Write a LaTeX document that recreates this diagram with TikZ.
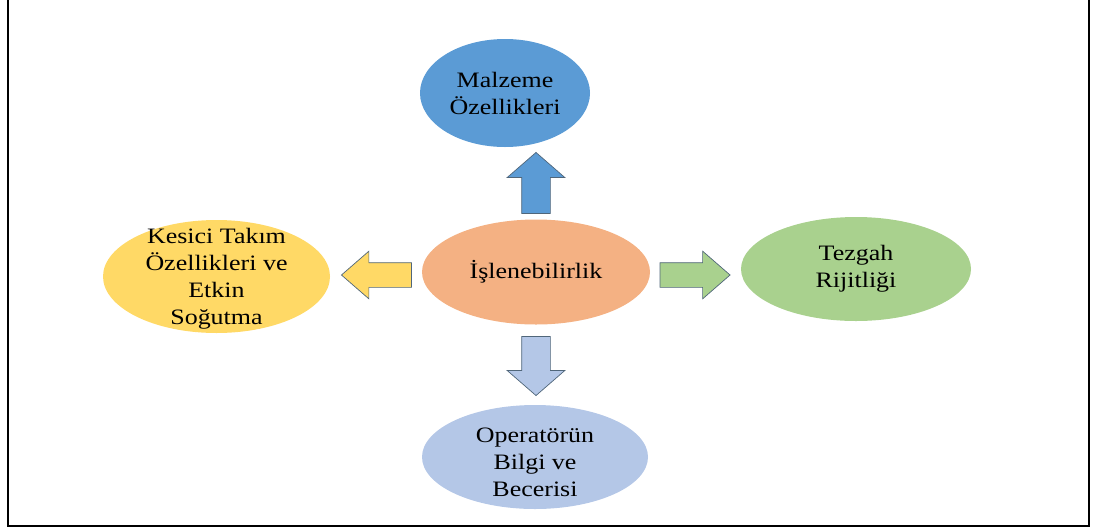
\documentclass[tikz,border=0pt]{standalone}
\usepackage{fontspec}
\setmainfont{Liberation Serif}[FakeStretch=1.18]
\usepackage{tikz}
\usetikzlibrary{shapes.geometric,shapes.arrows,calc}
\definecolor{malz-blue}{HTML}{5B9BD5}
\definecolor{isl-orange}{HTML}{F4B183}
\definecolor{kes-yellow}{HTML}{FFD966}
\definecolor{tez-green}{HTML}{A9D18E}
\definecolor{op-blue}{HTML}{B4C7E7}
\definecolor{arrow-edge}{HTML}{50667A}
\tikzset{
    oval-node/.style = {ellipse, fill=#1, draw=none, inner sep=0pt},
    oval-text/.style = {align=center, font=\fontsize{22}{27}\selectfont, inner sep=0pt},
    block-arrow/.style = {single arrow, fill=#1, draw=arrow-edge, line width=0.7pt, inner xsep=0pt, single arrow head indent=0pt, anchor=tail},
    vert-arrow/.style = {inner ysep=14pt, single arrow head extend=14.5pt, single arrow tip angle=98},
    horiz-arrow/.style = {inner ysep=12pt, minimum height=70pt, single arrow head extend=11.5pt, single arrow tip angle=82},
}

\begin{document}
\begin{tikzpicture}[x=1pt,y=-1pt]
\useasboundingbox (0,0) rectangle (1094,531);
\clip (0,0) rectangle (1094,531);
\draw [line width=2.5pt] (8,-10) rectangle (1089,526);

% ellipses
\node [oval-node=isl-orange, minimum width=228pt, minimum height=105pt] (isl) at (536,272) {};
\node [oval-node=malz-blue, minimum width=170pt, minimum height=108pt] (malz) at (505,93) {};
\node [oval-node=kes-yellow, minimum width=227pt, minimum height=113pt] (kes) at (216.5,276.5) {};
\node [oval-node=tez-green, minimum width=230pt, minimum height=104pt] (tez) at (856,269) {};
\node [oval-node=op-blue, minimum width=226pt, minimum height=104pt] (op) at (535,457) {};

% texts
\node [oval-text] (isl-t) at (isl) {İşlenebilirlik};
\node [oval-text] (malz-t) at (malz) {Malzeme\\Özellikleri};
\node [oval-text] (kes-t) at ($(kes)+(0,2)$) {Kesici Takım\\Özellikleri ve\\Etkin\\Soğutma};
\node [oval-text] (tez-t) at (tez) {Tezgah\\Rijitliği};
\node [oval-text] (op-t) at ($(op)+(0,5)$) {Operatörün\\Bilgi ve\\Becerisi};

% arrows
\node [block-arrow=malz-blue, vert-arrow, minimum height=61pt, rotate=90] (up) at ($(isl.north)+(0,-5.5)$) {};
\node [block-arrow=op-blue, vert-arrow, minimum height=59pt, rotate=-90] (down) at ($(isl.south)+(0,11.5)$) {};
\node [block-arrow=kes-yellow, horiz-arrow, rotate=180] (left) at ($(isl.west)+(-10,3)$) {};
\node [block-arrow=tez-green, horiz-arrow] (right) at ($(isl.east)+(9.5,3)$) {};
\end{tikzpicture}
\end{document}
